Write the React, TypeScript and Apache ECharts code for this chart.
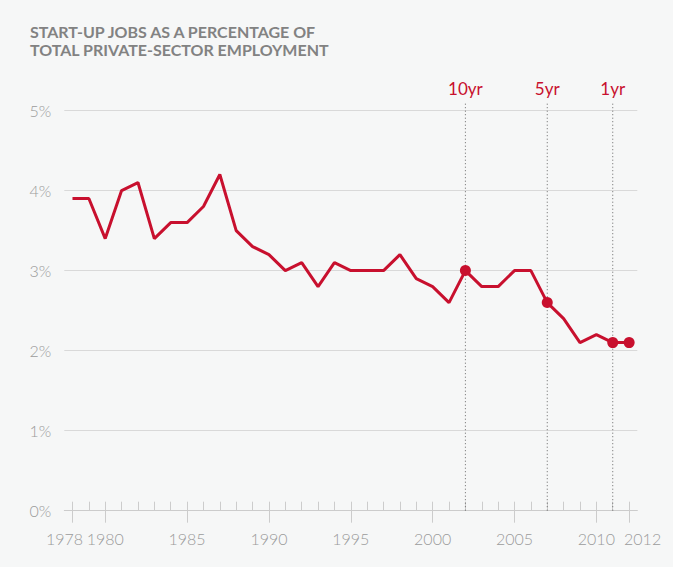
import React, { useEffect, useRef } from 'react';
import * as echarts from 'echarts';

const titleLines = ['START-UP JOBS AS A PERCENTAGE OF', 'TOTAL PRIVATE-SECTOR EMPLOYMENT'];

const years = [
  1978, 1979, 1980, 1981, 1982, 1983, 1984, 1985, 1986, 1987,
  1988, 1989, 1990, 1991, 1992, 1993, 1994, 1995, 1996, 1997,
  1998, 1999, 2000, 2001, 2002, 2003, 2004, 2005, 2006, 2007,
  2008, 2009, 2010, 2011, 2012,
];

const startupShare = [
  3.9, 3.9, 3.4, 4.0, 4.1, 3.4, 3.6, 3.6, 3.8, 4.2,
  3.5, 3.3, 3.2, 3.0, 3.1, 2.8, 3.1, 3.0, 3.0, 3.0,
  3.2, 2.9, 2.8, 2.6, 3.0, 2.8, 2.8, 3.0, 3.0, 2.6,
  2.4, 2.1, 2.2, 2.1, 2.1,
];

const labelYears = [1978, 1980, 1985, 1990, 1995, 2000, 2005, 2010, 2012];
const yTicks = [0, 1, 2, 3, 4, 5];
const markerYears = [2002, 2007, 2011];
const markerLabels = ['10yr', '5yr', '1yr'];
const dotYears = [2002, 2007, 2011, 2012];

const RED = '#c8102e';
const GRAY_TEXT = '#9b9b9b';
const FONT = 'Lato, "Open Sans", sans-serif';

export default function App() {
  const ref = useRef<HTMLDivElement>(null);

  useEffect(() => {
    if (!ref.current) return;
    const chart = echarts.init(ref.current, undefined, { renderer: 'svg' });

    const lineData = years.map((y, i) => [y, startupShare[i]]);
    const dotData = dotYears.map((y) => [y, startupShare[years.indexOf(y)]]);
    const markerData = markerYears.map((y) => [y, 0]);

    chart.setOption({
      animation: false,
      backgroundColor: '#f6f7f7',
      title: {
        text: titleLines.join('\n'),
        left: 25,
        top: 17,
        textStyle: {
          color: '#828282',
          fontFamily: FONT,
          fontWeight: 'bold',
          fontSize: 16,
          lineHeight: 18.5,
        },
      },
      grid: { left: 64.3, right: 35.7, top: 110.5, bottom: 56.3, containLabel: false },
      xAxis: [
        {
          type: 'value',
          min: 1977.5,
          max: 2012.5,
          axisLine: { show: true, lineStyle: { color: '#cccccc', width: 1 } },
          axisTick: {
            show: true,
            customValues: years,
            inside: true,
            length: 9,
            lineStyle: { color: '#cccccc', width: 1 },
          },
          axisLabel: {
            customValues: labelYears,
            margin: 20,
            color: GRAY_TEXT,
            fontFamily: FONT,
            fontWeight: 300,
            fontSize: 16,
            formatter: (v: number) =>
              v === labelYears[0]
                ? '{l|' + v + '}'
                : v === labelYears[labelYears.length - 1]
                ? '{r|' + v + '}'
                : String(v),
            rich: {
              l: { padding: [0, 16, 0, 0], color: GRAY_TEXT, fontFamily: FONT, fontWeight: 300, fontSize: 16 },
              r: { padding: [0, 0, 0, 27], color: GRAY_TEXT, fontFamily: FONT, fontWeight: 300, fontSize: 16 },
            },
          },
          splitLine: { show: false },
        },
        {
          type: 'value',
          min: 1977.5,
          max: 2012.5,
          position: 'bottom',
          axisLine: { show: false },
          axisTick: {
            show: true,
            customValues: labelYears,
            inside: false,
            length: 12,
            lineStyle: { color: '#cccccc', width: 1 },
          },
          axisLabel: { show: false },
          splitLine: { show: false },
        },
      ],
      yAxis: {
        type: 'value',
        min: yTicks[0],
        max: yTicks[yTicks.length - 1],
        interval: 1,
        axisLine: { show: false },
        axisTick: { show: false },
        axisLabel: {
          formatter: '{value}%',
          margin: 13,
          color: GRAY_TEXT,
          fontFamily: FONT,
          fontWeight: 300,
          fontSize: 16,
        },
        splitLine: { lineStyle: { color: '#d9d9d9', width: 1 } },
      },
      series: [
        {
          type: 'custom',
          data: markerData,
          clip: false,
          z: 1,
          encode: { x: 0, y: 1 },
          renderItem: (params: any, api: any) => {
            const x = api.value(0);
            const bottom = api.coord([x, yTicks[0]]);
            const top = api.coord([x, yTicks[yTicks.length - 1]]);
            return {
              type: 'group',
              children: [
                {
                  type: 'line',
                  shape: { x1: bottom[0], y1: bottom[1], x2: top[0], y2: top[1] - 9 },
                  style: { stroke: '#666666', lineWidth: 1, lineDash: [1, 2.5] },
                },
                {
                  type: 'text',
                  x: top[0],
                  y: top[1] - 22,
                  style: {
                    text: markerLabels[params.dataIndex],
                    fill: RED,
                    fontFamily: FONT,
                    fontSize: 17,
                    fontWeight: 'normal',
                    align: 'center',
                    verticalAlign: 'middle',
                  },
                },
              ],
            };
          },
        },
        {
          type: 'line',
          data: lineData,
          symbol: 'none',
          z: 3,
          lineStyle: { color: RED, width: 3 },
          itemStyle: { color: RED },
        },
        {
          type: 'scatter',
          data: dotData,
          symbol: 'circle',
          symbolSize: 11,
          z: 4,
          itemStyle: { color: RED, opacity: 1 },
        },
      ],
    });

    return () => chart.dispose();
  }, []);

  return (
    <div
      ref={ref}
      style={{ position: 'fixed', left: 0, top: 0, width: 673, height: 567, background: '#f6f7f7' }}
    />
  );
}
